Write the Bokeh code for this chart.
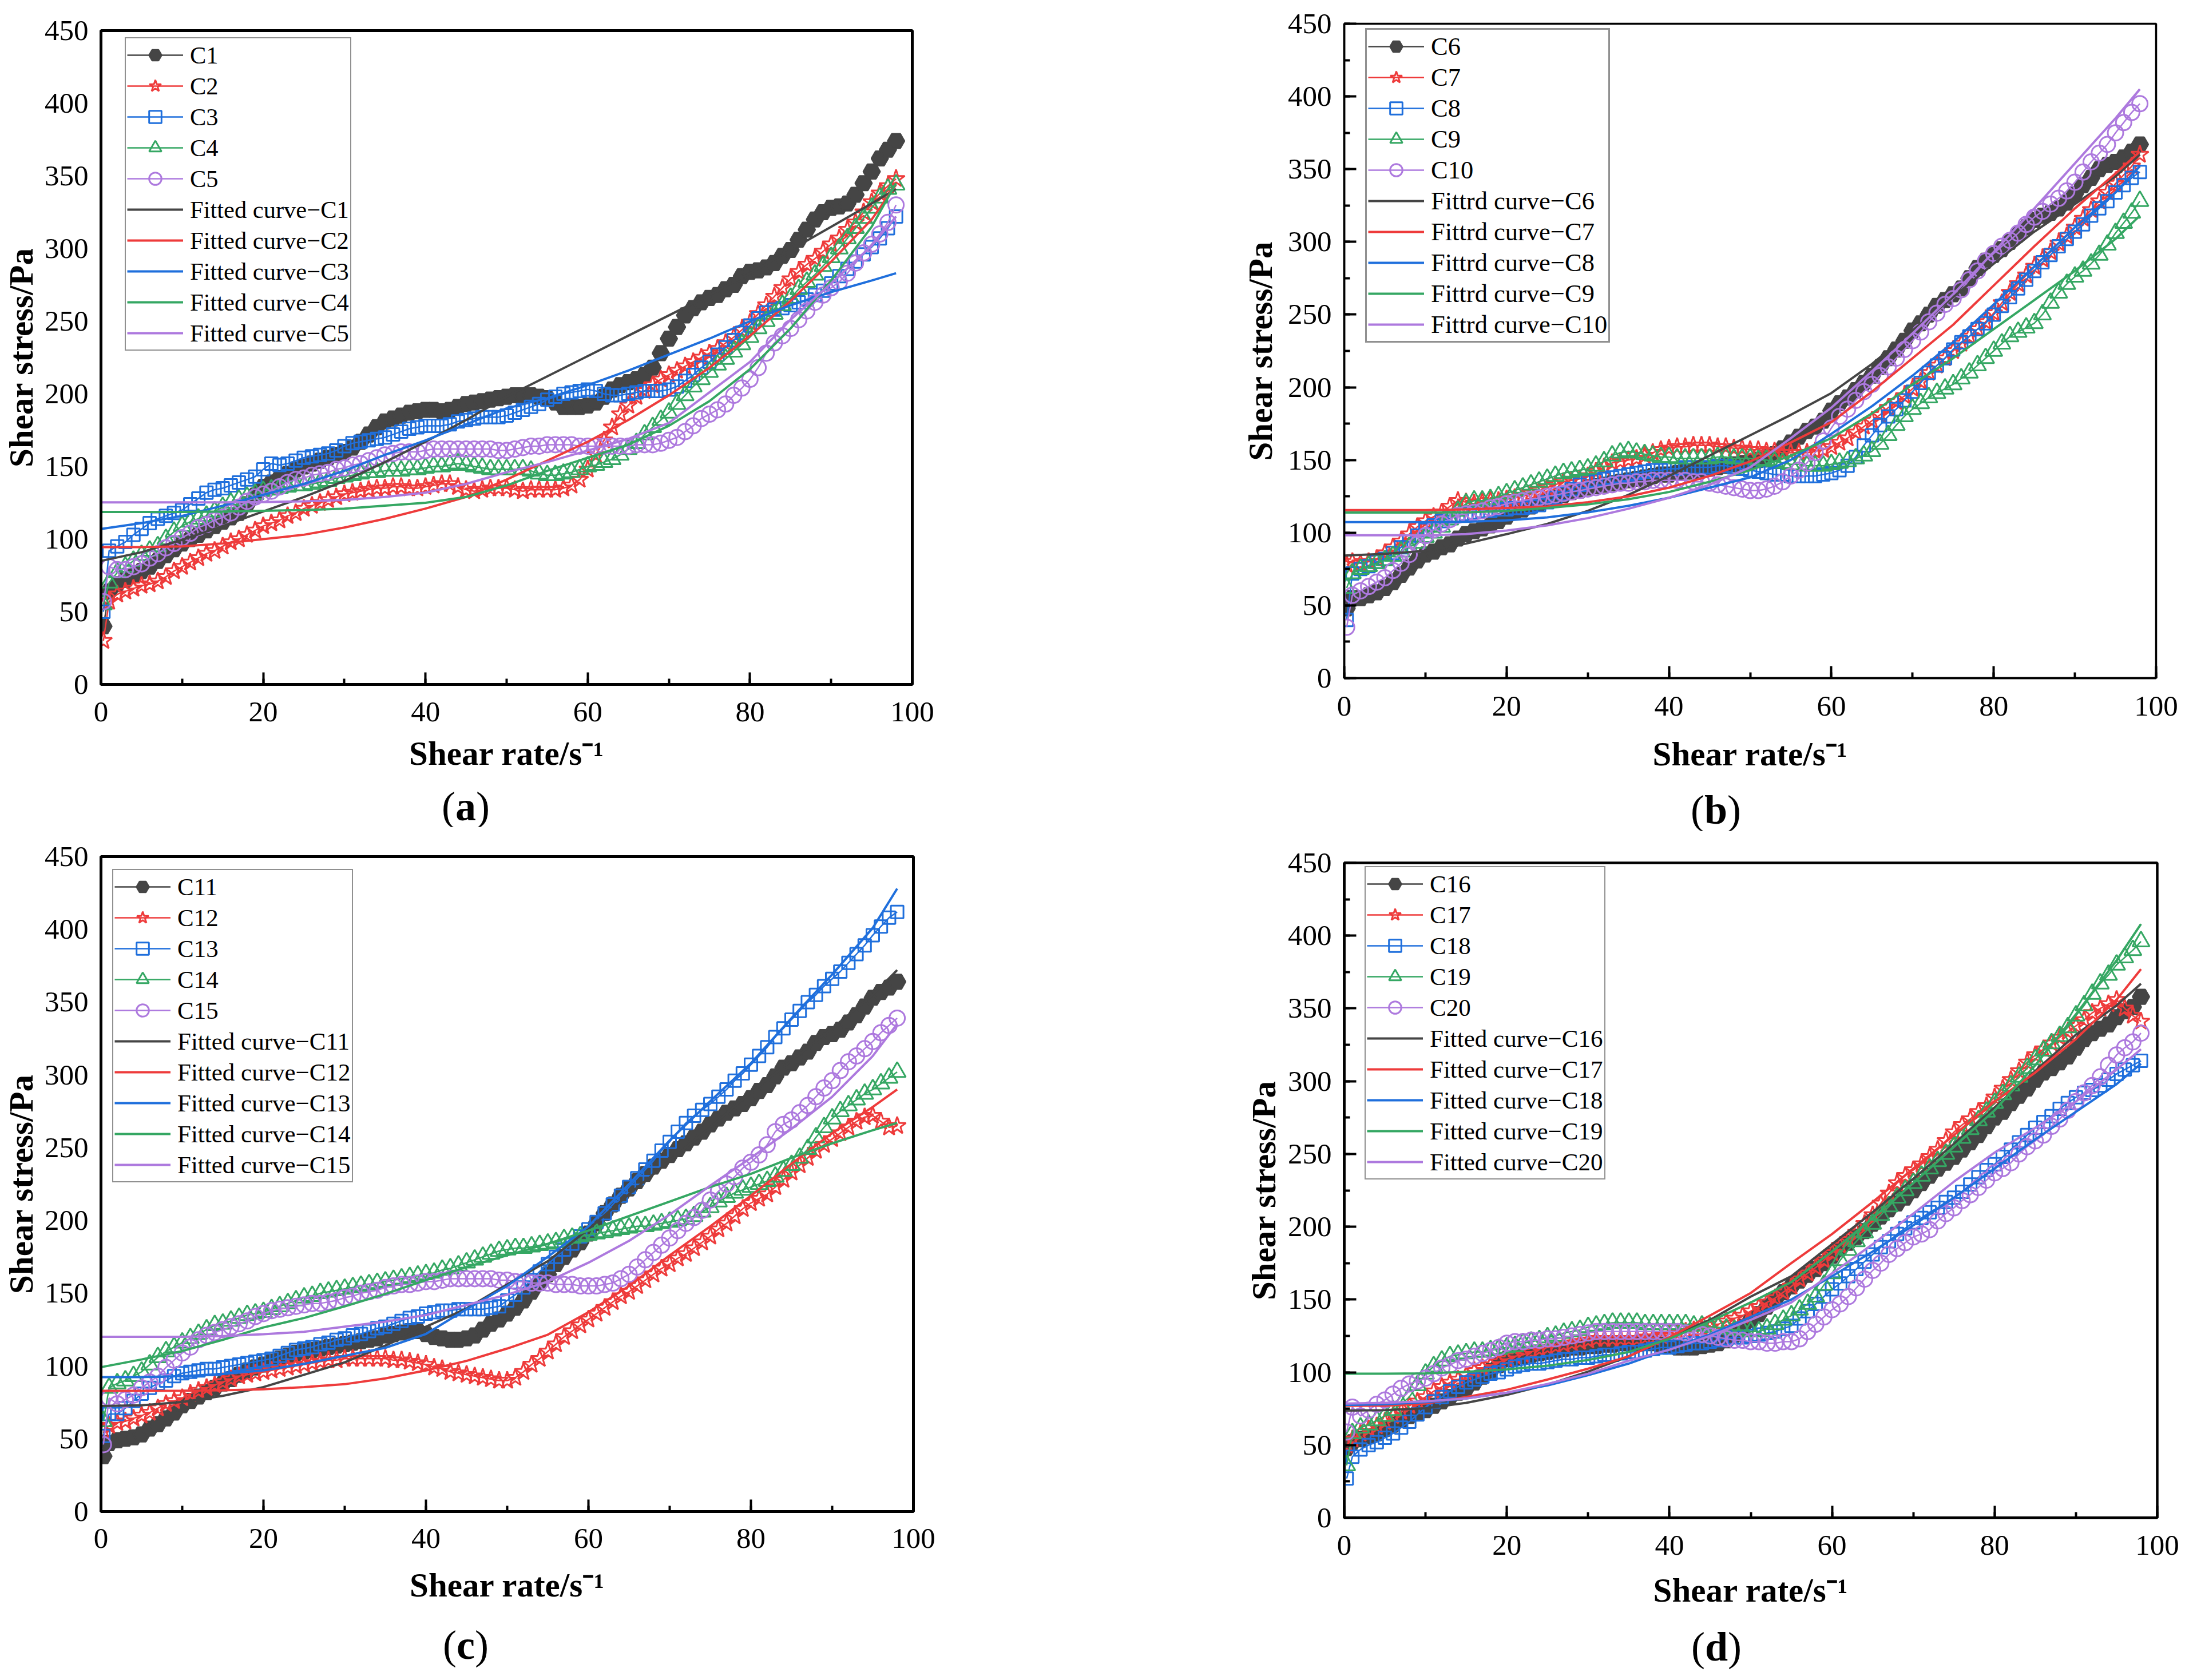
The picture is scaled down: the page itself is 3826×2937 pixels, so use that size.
from bokeh.plotting import figure
from bokeh.models import Range1d, SingleIntervalTicker, Legend, LegendItem, Div
from bokeh.layouts import column, row
from bokeh.embed import file_html
from bokeh.resources import INLINE

# shear rate sampling (s^-1)
DX = [0.3, 1, 2, 3, 4, 5, 6, 7, 8, 9,
      10, 11, 12, 13, 14, 15, 16, 17, 18, 19,
      20, 21, 22, 23, 24, 25, 26, 27, 28, 29,
      30, 31, 32, 33, 34, 35, 36, 37, 38, 39,
      40, 41, 42, 43, 44, 45, 46, 47, 48, 49,
      50, 51, 52, 53, 54, 55, 56, 57, 58, 59,
      60, 61, 62, 63, 64, 65, 66, 67, 68, 69,
      70, 71, 72, 73, 74, 75, 76, 77, 78, 79,
      80, 81, 82, 83, 84, 85, 86, 87, 88, 89,
      90, 91, 92, 93, 94, 95, 96, 97, 98]

# ---------------- panel (a) ----------------
C1 = [40, 64, 69, 72, 75, 78, 81, 85, 89, 93,
      97, 100, 103, 106, 109, 112, 115, 118, 124, 130,
      136, 139, 142, 145, 148, 150, 152, 154, 156, 158,
      160, 163, 167, 172, 177, 181, 183, 185, 187, 188,
      189, 189, 188, 189, 191, 193, 194, 195, 196, 197,
      198, 199, 199, 199, 198, 197, 194, 191, 191, 191,
      192, 194, 198, 203, 206, 208, 210, 213, 218, 228,
      238, 246, 254, 259, 263, 266, 268, 272, 275, 281,
      284, 285, 287, 290, 295, 299, 306, 313, 320, 325,
      328, 329, 331, 337, 345, 353, 362, 368, 374]
C2 = [30, 57, 62, 64, 66, 68, 69, 71, 74, 78,
      81, 84, 87, 90, 92, 95, 98, 100, 103, 106,
      109, 111, 113, 116, 118, 121, 123, 125, 127, 129,
      131, 132, 133, 134, 135, 135, 136, 136, 135, 135,
      136, 137, 138, 138, 136, 134, 133, 134, 135, 135,
      135, 134, 133, 134, 134, 134, 134, 135, 137, 141,
      148, 158, 168, 177, 186, 192, 198, 202, 206, 210,
      213, 216, 219, 222, 225, 228, 231, 235, 239, 244,
      249, 255, 261, 267, 273, 279, 284, 289, 293, 298,
      303, 307, 313, 318, 325, 332, 338, 343, 348]
C3 = [50, 92, 95, 98, 103, 107, 111, 114, 116, 118,
      120, 124, 128, 132, 134, 135, 137, 139, 141, 143,
      148, 152, 151, 152, 154, 156, 157, 158, 159, 161,
      164, 166, 167, 168, 169, 170, 172, 174, 176, 177,
      178, 178, 178, 179, 181, 182, 183, 184, 184, 184,
      185, 187, 189, 191, 193, 196, 198, 200, 201, 202,
      203, 202, 200, 199, 199, 200, 201, 202, 202, 202,
      203, 205, 209, 213, 218, 222, 227, 232, 237, 242,
      247, 252, 256, 258, 259, 261, 263, 265, 268, 271,
      276, 281, 286, 291, 296, 301, 307, 314, 322]
C4 = [55, 70, 77, 81, 85, 89, 92, 95, 100, 105,
      109, 112, 114, 116, 119, 122, 125, 127, 129, 131,
      133, 134, 135, 136, 137, 137, 138, 139, 140, 142,
      143, 144, 145, 146, 146, 147, 147, 147, 148, 148,
      149, 150, 150, 151, 152, 151, 150, 149, 148, 148,
      148, 148, 148, 147, 145, 144, 144, 145, 146, 148,
      150, 151, 153, 155, 158, 162, 166, 172, 177, 182,
      187, 193, 199, 205, 210, 215, 220, 224, 229, 234,
      239, 245, 250, 255, 261, 266, 272, 277, 282, 288,
      294, 300, 307, 314, 321, 328, 335, 341, 344]
C5 = [57, 81, 79, 79, 81, 83, 87, 90, 94, 97,
      101, 104, 108, 110, 113, 115, 118, 122, 126, 129,
      131, 133, 136, 139, 141, 142, 144, 145, 146, 148,
      149, 151, 152, 154, 156, 158, 159, 160, 160, 160,
      161, 162, 162, 162, 162, 162, 162, 162, 162, 161,
      161, 162, 163, 164, 164, 165, 165, 165, 165, 164,
      164, 164, 164, 164, 164, 164, 165, 165, 165, 166,
      168, 170, 174, 178, 183, 186, 189, 193, 199, 204,
      210, 218, 228, 235, 240, 245, 251, 257, 263, 268,
      273, 277, 283, 290, 297, 303, 310, 318, 330]

# fitted curves sampled at these shear rates
FX = [0, 5, 10, 15, 20, 25, 30, 35, 40, 45, 50, 55, 60, 65, 70, 75, 80, 85, 90, 95, 98]
F1 = [85, 91, 99.5, 109, 119, 129, 140, 153, 167, 182, 198, 212, 226, 240, 254, 268, 283, 299, 315, 331, 341]
F2 = [94.5, 94.5, 95, 97, 100, 103, 108, 114, 121, 129, 141, 154, 167, 182, 199, 218, 240, 264, 291, 320, 344]
F3 = [107, 111, 116, 123, 130.5, 138, 147, 158, 168, 179, 190, 197, 206, 216, 227, 238, 250, 261, 270, 278, 283]
F4 = [118.7, 118.7, 118.7, 119, 119.5, 120, 121, 123, 125, 129, 137, 147, 156, 165, 178, 195, 217, 245, 278, 315, 345]
F5 = [125.3, 125.3, 125.3, 125.3, 125.5, 126, 127, 129, 132, 138, 146, 153, 161, 169, 180, 201, 222, 251, 276, 302, 322]

# ---------------- panel (b) ----------------
C6 = [48, 55, 55, 57, 59, 62, 66, 71, 76, 81,
      85, 87, 90, 92, 96, 99, 101, 103, 105, 108,
      111, 114, 116, 118, 120, 122, 124, 126, 128, 129,
      131, 132, 133, 134, 135, 136, 137, 138, 139, 140,
      140, 141, 142, 142, 143, 144, 145, 146, 147, 148,
      149, 150, 152, 154, 158, 162, 166, 170, 173, 177,
      184, 189, 193, 198, 203, 208, 214, 220, 226, 232,
      239, 244, 250, 256, 260, 264, 268, 275, 282, 287,
      291, 295, 300, 305, 310, 315, 318, 320, 323, 327,
      333, 339, 344, 350, 353, 355, 358, 362, 367]
C7 = [78, 80, 79, 80, 82, 86, 90, 94, 99, 104,
      108, 111, 114, 118, 122, 121, 120, 121, 122, 122,
      123, 124, 125, 127, 129, 131, 133, 135, 136, 137,
      139, 142, 145, 148, 149, 150, 151, 153, 155, 157,
      158, 159, 159, 160, 160, 160, 159, 159, 158, 158,
      157, 157, 156, 156, 155, 155, 155, 155, 156, 157,
      159, 162, 165, 169, 173, 177, 181, 186, 190, 194,
      199, 204, 210, 215, 220, 225, 230, 235, 240, 245,
      251, 258, 265, 271, 277, 283, 288, 293, 299, 304,
      310, 316, 322, 328, 334, 340, 346, 352, 360]
C8 = [40, 72, 75, 77, 80, 82, 86, 90, 94, 98,
      102, 105, 108, 110, 112, 113, 114, 115, 115, 116,
      116, 117, 117, 118, 119, 121, 124, 127, 130, 133,
      135, 136, 137, 138, 139, 140, 141, 142, 143, 143,
      144, 144, 145, 145, 145, 145, 146, 146, 145, 144,
      143, 142, 141, 140, 140, 139, 139, 139, 139, 140,
      141, 143, 146, 152, 160, 167, 174, 180, 185, 191,
      197, 203, 210, 215, 220, 226, 231, 235, 240, 244,
      250, 256, 262, 268, 274, 280, 286, 291, 297, 302,
      307, 312, 318, 323, 328, 334, 339, 344, 348]
C9 = [62, 72, 75, 77, 79, 81, 84, 87, 90, 93,
      97, 100, 104, 109, 115, 120, 122, 122, 123, 125,
      127, 129, 131, 133, 135, 137, 139, 141, 142, 143,
      144, 146, 149, 153, 155, 156, 155, 154, 153, 152,
      152, 151, 151, 151, 151, 151, 152, 152, 151, 151,
      151, 150, 150, 149, 148, 147, 147, 146, 146, 146,
      147, 148, 149, 151, 153, 156, 161, 167, 174, 180,
      185, 189, 193, 196, 199, 202, 206, 210, 215, 220,
      225, 230, 235, 238, 241, 244, 250, 258, 265, 271,
      276, 280, 285, 291, 298, 306, 313, 320, 328]
C10 = [35, 57, 60, 63, 66, 69, 74, 79, 85, 92,
       98, 102, 106, 109, 112, 113, 114, 115, 117, 118,
       120, 121, 122, 123, 124, 125, 126, 127, 128, 129,
       130, 131, 132, 133, 134, 134, 135, 135, 136, 136,
       136, 136, 136, 135, 135, 134, 133, 132, 131, 130,
       129, 129, 130, 132, 135, 139, 143, 148, 155, 163,
       172, 180, 185, 191, 197, 202, 208, 214, 220, 226,
       232, 238, 245, 251, 257, 261, 267, 274, 280, 287,
       292, 297, 301, 306, 312, 317, 321, 326, 330, 335,
       341, 348, 355, 361, 367, 375, 382, 389, 395]
F6 = [84.3, 85.5, 87.5, 92.5, 99, 106, 115, 126, 139, 153, 167, 181, 196, 216, 239, 262, 285, 307, 326, 345, 360]
F7 = [115.5, 115.5, 115.5, 116, 117, 118, 121, 125, 131, 139, 149, 162, 176, 197, 220, 243, 270, 297, 323, 347, 362]
F8 = [107.3, 107.3, 107.3, 107.5, 108.5, 110.5, 114, 118.5, 124, 131, 138, 150, 168, 187, 208, 231, 257, 283, 310, 334, 352]
F9 = [113.9, 113.9, 113.9, 114, 115, 117, 119.5, 123, 128, 135, 143, 153, 165, 182, 202, 220, 240, 260, 280, 302, 318]
F10 = [98.2, 98.2, 98.2, 99, 101.5, 105, 110, 116.5, 124, 133, 145, 165, 186, 211, 237, 264, 293, 323, 354, 385, 405]

# ---------------- panel (c) ----------------
C11 = [38, 47, 49, 50, 51, 53, 57, 60, 64, 68,
       73, 76, 79, 82, 85, 88, 91, 94, 97, 99,
       101, 103, 105, 107, 109, 110, 111, 112, 113, 114,
       115, 116, 117, 118, 119, 121, 122, 123, 124, 124,
       122, 120, 119, 118, 118, 119, 121, 125, 129, 132,
       136, 140, 145, 151, 157, 163, 170, 175, 180, 185,
       191, 198, 205, 211, 217, 222, 227, 232, 237, 241,
       245, 249, 253, 257, 261, 266, 270, 274, 277, 280,
       284, 289, 293, 299, 305, 308, 312, 316, 322, 326,
       328, 331, 336, 341, 347, 353, 357, 360, 364]
C12 = [55, 59, 61, 62, 64, 66, 68, 71, 74, 76,
       78, 81, 83, 85, 87, 89, 91, 93, 94, 95,
       96, 97, 98, 99, 100, 101, 102, 103, 104, 104,
       105, 105, 105, 105, 105, 105, 104, 104, 103, 102,
       101, 99, 98, 96, 95, 94, 93, 92, 91, 90,
       90, 92, 96, 101, 105, 110, 115, 120, 124, 128,
       132, 136, 140, 144, 148, 151, 155, 159, 163, 167,
       170, 174, 177, 181, 185, 189, 194, 198, 203, 208,
       212, 215, 218, 223, 228, 233, 238, 243, 248, 252,
       256, 260, 264, 268, 271, 272, 268, 264, 265]
C13 = [52, 67, 67, 71, 76, 81, 85, 88, 90, 93,
       95, 96, 97, 98, 98, 99, 100, 101, 102, 103,
       104, 105, 107, 109, 111, 112, 113, 115, 116, 118,
       119, 121, 122, 124, 126, 127, 129, 131, 133, 134,
       136, 137, 138, 138, 139, 139, 139, 139, 140, 141,
       145, 149, 154, 159, 165, 170, 175, 180, 184, 189,
       194, 199, 205, 211, 217, 223, 229, 235, 241, 248,
       254, 261, 267, 272, 276, 280, 285, 290, 296, 301,
       307, 313, 319, 326, 332, 338, 344, 350, 355, 361,
       366, 371, 377, 383, 389, 396, 402, 408, 412]
C14 = [62, 85, 88, 90, 93, 96, 101, 106, 110, 113,
       116, 119, 122, 125, 128, 129, 131, 133, 135, 136,
       137, 139, 141, 143, 145, 147, 148, 150, 151, 152,
       153, 154, 155, 156, 157, 158, 159, 160, 161, 162,
       163, 164, 166, 167, 169, 171, 173, 175, 177, 179,
       180, 181, 181, 182, 183, 184, 185, 187, 188, 189,
       190, 191, 192, 193, 194, 195, 196, 196, 197, 198,
       199, 200, 201, 203, 206, 209, 213, 216, 219, 221,
       223, 225, 227, 230, 234, 238, 243, 249, 257, 264,
       270, 275, 279, 283, 287, 290, 294, 298, 302]
C15 = [46, 78, 74, 77, 80, 85, 89, 93, 99, 104,
       109, 113, 118, 121, 123, 125, 127, 129, 131, 134,
       136, 138, 139, 140, 141, 142, 143, 143, 144, 145,
       147, 148, 150, 151, 152, 154, 155, 156, 156, 157,
       158, 158, 159, 160, 160, 160, 160, 160, 160, 159,
       159, 158, 158, 157, 157, 157, 156, 156, 156, 155,
       155, 155, 156, 157, 160, 163, 168, 173, 178, 183,
       188, 193, 198, 202, 207, 214, 220, 225, 230, 236,
       240, 245, 252, 261, 266, 269, 274, 279, 285, 291,
       296, 303, 309, 313, 318, 323, 329, 334, 339]
F11 = [72.5, 73, 75.3, 79.5, 85.5, 94, 102.5, 114, 127, 139.5, 156, 172, 194, 218, 241, 264, 288, 310, 332, 355, 372]
F12 = [82.9, 82.9, 83, 83.3, 84, 85.5, 87.5, 91.5, 97, 103.5, 112, 121.5, 137, 155, 176, 196, 217, 239, 260, 278, 290]
F13 = [92.4, 92.4, 93, 94.5, 97, 101.5, 107, 112.5, 122, 139, 155, 175, 196, 225, 255, 282, 308, 339, 369, 401, 428]
F14 = [99.2, 104.5, 110.3, 118, 126.5, 133, 141, 149.5, 159, 168, 176, 184, 193, 203, 213, 223, 232, 243, 253, 262, 267]
F15 = [120.1, 120.1, 120.1, 120.6, 121.8, 123.5, 127, 130.5, 135, 142, 149, 158, 171, 186, 204, 224, 243, 263, 285, 313, 335]

# ---------------- panel (d) ----------------
C16 = [48, 52, 54, 56, 58, 61, 64, 67, 70, 72,
       74, 77, 80, 83, 86, 89, 93, 97, 101, 105,
       109, 110, 111, 112, 113, 114, 115, 116, 117, 117,
       118, 118, 119, 119, 120, 120, 120, 120, 120, 119,
       118, 117, 117, 117, 118, 119, 120, 122, 126, 131,
       136, 140, 145, 150, 155, 159, 163, 167, 171, 175,
       180, 185, 189, 193, 197, 202, 207, 212, 216, 220,
       225, 230, 235, 240, 244, 248, 253, 258, 263, 269,
       275, 279, 285, 290, 295, 301, 306, 309, 313, 317,
       323, 329, 333, 336, 339, 344, 348, 351, 358]
C17 = [50, 54, 58, 61, 63, 66, 70, 73, 77, 80,
       83, 87, 90, 93, 95, 98, 101, 103, 105, 107,
       109, 111, 112, 114, 116, 117, 118, 119, 120, 121,
       122, 123, 123, 123, 123, 123, 123, 124, 124, 125,
       126, 127, 128, 129, 130, 131, 133, 135, 137, 139,
       142, 145, 148, 151, 155, 159, 164, 168, 172, 177,
       182, 187, 191, 196, 202, 208, 216, 223, 230, 235,
       239, 243, 248, 253, 259, 265, 270, 274, 279, 283,
       289, 295, 301, 307, 313, 318, 322, 326, 330, 334,
       338, 342, 347, 350, 353, 356, 350, 345, 341]
C18 = [27, 42, 47, 50, 52, 55, 58, 62, 66, 71,
       76, 80, 83, 87, 90, 93, 95, 97, 99, 100,
       102, 104, 105, 106, 106, 107, 108, 109, 109, 110,
       110, 111, 112, 112, 113, 114, 114, 115, 116, 117,
       117, 118, 119, 120, 120, 121, 122, 123, 124, 124,
       125, 126, 127, 128, 130, 132, 137, 142, 147, 152,
       157, 161, 166, 171, 176, 181, 186, 190, 195, 199,
       203, 206, 210, 213, 217, 220, 224, 229, 234, 239,
       243, 248, 253, 258, 263, 268, 272, 276, 281, 285,
       289, 292, 294, 297, 301, 305, 308, 311, 314]
C19 = [36, 58, 62, 64, 67, 70, 74, 78, 83, 91,
       99, 104, 108, 111, 112, 113, 114, 114, 115, 116,
       117, 118, 120, 121, 122, 124, 125, 127, 128, 129,
       131, 132, 133, 134, 134, 134, 134, 133, 133, 133,
       133, 133, 133, 132, 132, 131, 131, 130, 129, 129,
       128, 128, 130, 133, 136, 139, 143, 147, 152, 160,
       168, 177, 184, 190, 196, 202, 208, 214, 220, 225,
       230, 235, 240, 245, 250, 255, 261, 267, 273, 279,
       285, 291, 297, 303, 309, 315, 321, 326, 331, 337,
       345, 352, 360, 367, 373, 380, 385, 390, 396]
C20 = [59, 76, 70, 74, 78, 81, 85, 89, 92, 94,
       96, 99, 103, 105, 108, 109, 111, 113, 115, 117,
       120, 121, 121, 122, 122, 123, 123, 124, 125, 126,
       127, 128, 128, 128, 128, 128, 128, 128, 128, 128,
       128, 128, 127, 127, 126, 125, 124, 123, 122, 122,
       121, 121, 120, 120, 121, 121, 123, 128, 133, 138,
       143, 147, 152, 158, 164, 170, 175, 181, 185, 189,
       193, 195, 198, 204, 209, 213, 218, 222, 227, 232,
       237, 240, 244, 250, 255, 259, 263, 269, 274, 280,
       286, 292, 297, 303, 311, 318, 323, 327, 333]
F16 = [73.7, 74, 75.3, 79, 84.5, 91.5, 100.5, 111, 124, 136, 152, 166, 188, 210, 233, 257, 282, 307, 332, 352, 367]
F17 = [77, 77, 78.5, 83, 88, 95, 102.5, 111, 124, 139, 154.5, 175, 195, 217, 240, 263, 286, 306, 329, 356, 377]
F18 = [77.5, 78, 79.5, 82, 86, 91, 98, 106, 116, 126, 138, 150, 166, 183, 201, 220, 240, 260, 279, 298, 312]
F19 = [99, 99, 99.2, 100.3, 102, 104.5, 108.5, 114, 123, 135, 148, 162, 183, 206, 230, 255, 280, 311, 346, 383, 408]
F20 = [78.5, 79, 80.1, 82, 86, 92, 99, 108, 115.5, 125, 136, 148, 168, 188, 209, 231, 251, 268, 286, 308, 322]

COLORS = ["#454545", "#EE3B3B", "#1F6FDC", "#35A763", "#AD79DE"]
MARKERS = ["hex", "star", "square", "triangle", "circle"]
SIZES = [29, 32, 22, 30, 27]
FONT = "Liberation Serif"


def build(series, fits, names, fit_names, g):
    p = figure(frame_width=g["fw"], frame_height=g["fh"],
               x_range=Range1d(0, 100), y_range=Range1d(0, 450),
               output_backend="svg", toolbar_location=None,
               min_border_left=g["l"], min_border_right=g["r"],
               min_border_top=g["t"], min_border_bottom=g["b"],
               x_axis_label="Shear rate/s\u207b\u00b9", y_axis_label="Shear stress/Pa")
    p.background_fill_color = "white"
    p.border_fill_color = "white"
    p.grid.visible = False
    p.outline_line_color = "black"
    p.outline_line_width = g["ow"]

    p.xaxis.ticker = SingleIntervalTicker(interval=20, num_minor_ticks=2)
    p.yaxis.ticker = SingleIntervalTicker(interval=50, num_minor_ticks=2)
    for ax in (p.xaxis, p.yaxis):
        ax.axis_line_width = g["ow"]
        ax.axis_line_color = "black"
        ax.major_tick_in = 21
        ax.major_tick_out = 0
        ax.minor_tick_in = 10
        ax.minor_tick_out = 0
        ax.major_tick_line_width = 4
        ax.minor_tick_line_width = 4
        ax.major_tick_line_color = "black"
        ax.minor_tick_line_color = "black"
        ax.major_label_text_font = FONT
        ax.major_label_text_font_size = "51px"
        ax.major_label_text_color = "black"
        ax.axis_label_text_font = FONT
        ax.axis_label_text_font_style = "bold"
        ax.axis_label_text_font_size = "59px"
        ax.axis_label_text_color = "black"
    if not g["yticks"]:
        p.yaxis.major_tick_line_color = None
        p.yaxis.minor_tick_line_color = None
    p.xaxis.major_label_standoff = g["xts"]
    p.xaxis.axis_label_standoff = g["xls"]
    p.yaxis.major_label_standoff = 22
    p.yaxis.axis_label_standoff = g["yls"]

    items = []
    for i, ys in enumerate(series):
        c = COLORS[i]
        lr = p.line(DX, ys, line_color=c, line_width=2.5)
        fill = c if i == 0 else None
        sr = p.scatter(DX, ys, marker=MARKERS[i], size=SIZES[i], line_color=c, line_width=3,
                       fill_color=fill, fill_alpha=1.0 if i == 0 else 0.0)
        items.append(LegendItem(label=names[i], renderers=[lr, sr]))
    for i, fy in enumerate(fits):
        fr = p.line(FX, fy, line_color=COLORS[i], line_width=4)
        items.append(LegendItem(label=fit_names[i], renderers=[fr]))

    leg_h = 10 * 54 + 4
    legend = Legend(items=items, location=(g["lx"], g["fh"] - g["lt"] - leg_h),
                    label_text_font=FONT, label_text_font_size=g["lfs"], label_text_color="black",
                    label_height=54, glyph_height=54, glyph_width=98, label_standoff=12,
                    spacing=0, padding=2, margin=0,
                    border_line_color="#222222", border_line_width=g["lbw"],
                    background_fill_color="white", background_fill_alpha=1.0)
    p.add_layout(legend)
    return p


def letter_div(letter, width, height, left, pad_top, line_h):
    html = ('<div style="margin-left:%dpx; padding-top:%dpx; font-family:\'Liberation Serif\', serif; '
            'font-size:72px; line-height:%dpx; white-space:nowrap; color:black;">(<b>%s</b>)</div>'
            % (left, pad_top, line_h, letter))
    return Div(text=html, width=width, height=height, margin=0)


GA = dict(fw=1418, fh=1143, l=172, r=500, t=53, b=179, ow=5, yticks=False,
          lx=42, lt=16, lfs="42.5px", lbw=2, xts=31, xls=20, yls=5)
GB = dict(fw=1419, fh=1144, l=253, r=46, t=41, b=195, ow=3.5, yticks=True,
          lx=37, lt=14, lfs="44.5px", lbw=3, xts=32, xls=31, yls=12)
GC = dict(fw=1420, fh=1145, l=172, r=500, t=52, b=182, ow=5, yticks=False,
          lx=20, lt=26, lfs="43px", lbw=2, xts=30, xls=29, yls=5)
GD = dict(fw=1421, fh=1145, l=253, r=44, t=56, b=180, ow=4.5, yticks=True,
          lx=36, lt=10, lfs="43px", lbw=2, xts=31, xls=26, yls=6)

pa = build([C1, C2, C3, C4, C5], [F1, F2, F3, F4, F5],
           ["C1", "C2", "C3", "C4", "C5"],
           ["Fitted curve\u2212C1", "Fitted curve\u2212C2", "Fitted curve\u2212C3",
            "Fitted curve\u2212C4", "Fitted curve\u2212C5"], GA)
pb = build([C6, C7, C8, C9, C10], [F6, F7, F8, F9, F10],
           ["C6", "C7", "C8", "C9", "C10"],
           ["Fittrd curve\u2212C6", "Fittrd curve\u2212C7", "Fittrd curve\u2212C8",
            "Fittrd curve\u2212C9", "Fittrd curve\u2212C10"], GB)
pc = build([C11, C12, C13, C14, C15], [F11, F12, F13, F14, F15],
           ["C11", "C12", "C13", "C14", "C15"],
           ["Fitted curve\u2212C11", "Fitted curve\u2212C12", "Fitted curve\u2212C13",
            "Fitted curve\u2212C14", "Fitted curve\u2212C15"], GC)
pd_ = build([C16, C17, C18, C19, C20], [F16, F17, F18, F19, F20],
            ["C16", "C17", "C18", "C19", "C20"],
            ["Fitted curve\u2212C16", "Fitted curve\u2212C17", "Fitted curve\u2212C18",
             "Fitted curve\u2212C19", "Fitted curve\u2212C20"], GD)

da = letter_div("a", 2092, 70, 772, 0, 70)
db = letter_div("b", 1718, 72, 859, 0, 72)
dc = letter_div("c", 2092, 92, 774, 16, 72)
dd = letter_div("d", 1718, 83, 860, 10, 72)

left_col = column(pa, da, pc, dc)
right_col = column(pb, db, pd_, dd)
layout = row(left_col, right_col)
open("out.html", "w").write(file_html(layout, INLINE))
